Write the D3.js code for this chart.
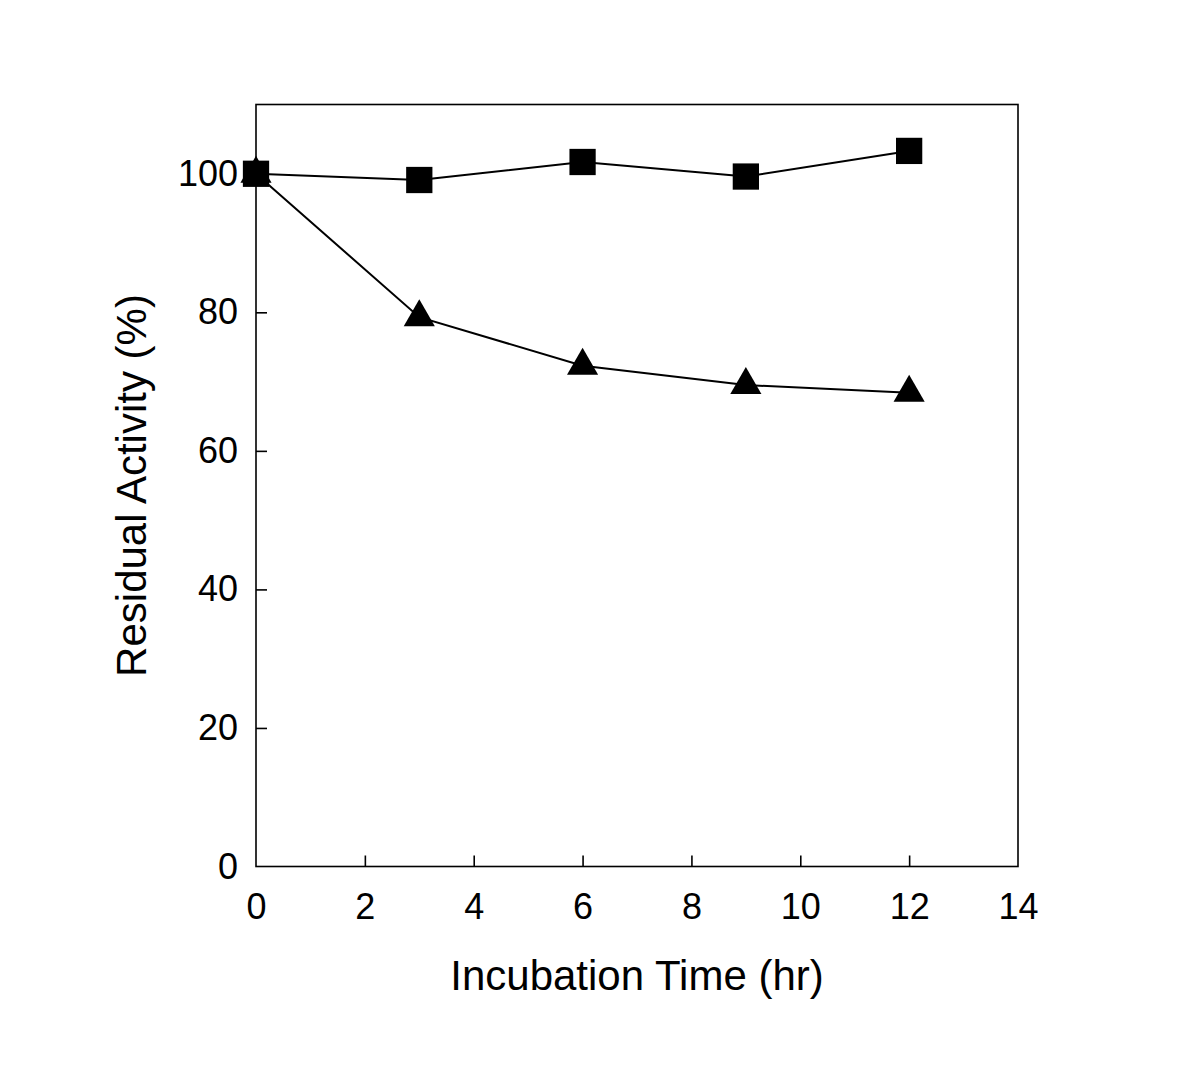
<!DOCTYPE html>
<html>
<head>
<meta charset="utf-8">
<script src="https://cdn.jsdelivr.net/npm/d3@7"></script>
<style>
  body { margin: 0; background: #fff; }
  svg { display: block; font-family: "Liberation Sans", Arial, sans-serif; }
</style>
</head>
<body>
<svg></svg>
<script>
// data
const hours = [0, 3, 6, 9, 12];
const squareSeries = [100, 99.1, 101.7, 99.6, 103.3];
const triangleSeries = [100, 79.3, 72.3, 69.5, 68.4];
const xTicks = [0, 2, 4, 6, 8, 10, 12, 14];
const yTicks = [0, 20, 40, 60, 80, 100];

const width = 1200;
const height = 1091;
const margin = { top: 104.5, right: 182, bottom: 224.5, left: 256 };

const svg = d3.select("svg")
  .attr("width", width)
  .attr("height", height);

const x = d3.scaleLinear().domain([0, 14]).range([margin.left, width - margin.right]);
const y = d3.scaleLinear().domain([0, 110]).range([height - margin.bottom, margin.top]);

// frame
svg.append("rect")
  .attr("x", x(0)).attr("y", y(110))
  .attr("width", x(14) - x(0)).attr("height", y(0) - y(110))
  .attr("fill", "none").attr("stroke", "#000").attr("stroke-width", 1.6);

// axes with inward ticks
const xAxis = svg.append("g")
  .attr("transform", `translate(0,${y(0)})`)
  .call(d3.axisBottom(x).tickValues(xTicks).tickSize(-11).tickPadding(27).tickSizeOuter(0));
const yAxis = svg.append("g")
  .attr("transform", `translate(${x(0)},0)`)
  .call(d3.axisLeft(y).tickValues(yTicks).tickSize(-11).tickPadding(18).tickSizeOuter(0));

[xAxis, yAxis].forEach(g => {
  g.select(".domain").remove();
  g.selectAll("line").attr("stroke", "#000").attr("stroke-width", 1.6);
  g.selectAll("text")
    .attr("fill", "#000")
    .style("font-size", "36px")
    .style("font-family", "Liberation Sans, Arial, sans-serif");
});
// keep the 0 and 14 edge ticks from doubling the frame
xAxis.selectAll(".tick").filter(d => d === 0 || d === 14).select("line").remove();
yAxis.selectAll(".tick").filter(d => d === 0).select("line").remove();

// axis titles
svg.append("text")
  .attr("x", (x(0) + x(14)) / 2)
  .attr("y", 990)
  .attr("text-anchor", "middle")
  .style("font-size", "42px")
  .text("Incubation Time (hr)");

svg.append("text")
  .attr("transform", `translate(146,${(y(0) + y(110)) / 2}) rotate(-90)`)
  .attr("text-anchor", "middle")
  .style("font-size", "42px")
  .text("Residual Activity (%)");

const line = d3.line().x((d, i) => x(hours[i])).y(d => y(d));

// triangles drawn first, squares on top
const series = [
  { values: triangleSeries, symbol: d3.symbolTriangle, size: 420 },
  { values: squareSeries, symbol: d3.symbolSquare, size: 690 }
];

series.forEach(s => {
  svg.append("path")
    .datum(s.values)
    .attr("d", line)
    .attr("fill", "none")
    .attr("stroke", "#000")
    .attr("stroke-width", 2);

  svg.append("g").selectAll("path")
    .data(s.values)
    .enter().append("path")
    .attr("transform", (d, i) => `translate(${x(hours[i])},${y(d)})`)
    .attr("d", d3.symbol().type(s.symbol).size(s.size))
    .attr("fill", "#000");
});
</script>
</body>
</html>
